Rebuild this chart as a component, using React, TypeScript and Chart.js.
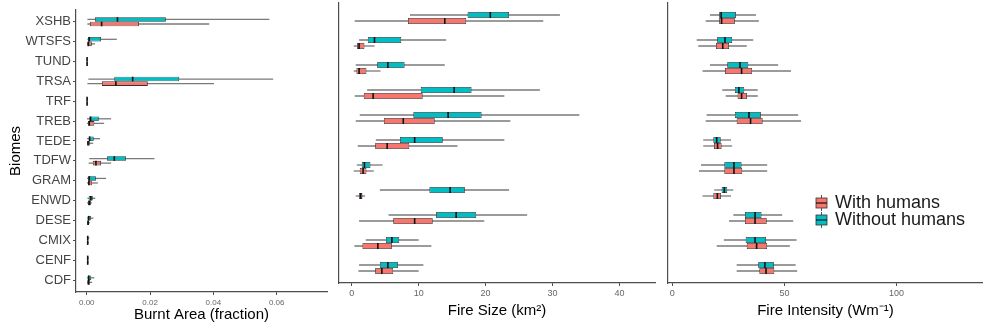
import React, { useEffect, useRef } from 'react';
import { Chart, registerables } from 'chart.js';

Chart.register(...registerables);
Chart.defaults.font.family = '"Liberation Sans", Arial, sans-serif';

const seriesNames = ['With humans', 'Without humans'];
const seriesColors = ['#F8766D', '#00BFC4'];

// each entry: [min, q1, median, q3, max]
const areaBiomes = ['XSHB', 'WTSFS', 'TUND', 'TRSA', 'TRF', 'TREB', 'TEDE', 'TDFW', 'GRAM', 'ENWD', 'DESE', 'CMIX', 'CENF', 'CDF'];
const areaWith = [
  [0.0002, 0.001, 0.0047, 0.0165, 0.0387],
  [0.0001, 0.0002, 0.0005, 0.0016, 0.0026],
  [0, 0.00005, 0.0001, 0.0002, 0.0003],
  [0.0002, 0.0048, 0.0092, 0.0193, 0.0402],
  [0, 0.00005, 0.0001, 0.0002, 0.0003],
  [0.0001, 0.0004, 0.0008, 0.0024, 0.0055],
  [0.0001, 0.0002, 0.0004, 0.001, 0.002],
  [0.0006, 0.0019, 0.0029, 0.0045, 0.0077],
  [0.0001, 0.0004, 0.0007, 0.0017, 0.0035],
  [0.0001, 0.0004, 0.0008, 0.0013, 0.0016],
  [0.0001, 0.0002, 0.0004, 0.0007, 0.001],
  [0.0001, 0.0002, 0.0003, 0.0004, 0.0007],
  [0.0001, 0.0002, 0.0003, 0.0004, 0.0006],
  [0.0001, 0.0003, 0.0005, 0.001, 0.0017],
];
const areaWithout = [
  [0.0002, 0.0026, 0.0097, 0.025, 0.0577],
  [0.0002, 0.0004, 0.0008, 0.0045, 0.0095],
  [0, 0.00005, 0.0001, 0.0002, 0.0003],
  [0.0005, 0.0087, 0.0145, 0.0292, 0.0589],
  [0, 0.00005, 0.0001, 0.0002, 0.0004],
  [0.0001, 0.0008, 0.0012, 0.0038, 0.0077],
  [0.0001, 0.0006, 0.0009, 0.0022, 0.0042],
  [0.0008, 0.0064, 0.0087, 0.0124, 0.0214],
  [0.0001, 0.0004, 0.0008, 0.0029, 0.0061],
  [0.0002, 0.0006, 0.0013, 0.0019, 0.0027],
  [0.0001, 0.0003, 0.0006, 0.0013, 0.0021],
  [0.0001, 0.0002, 0.0003, 0.0005, 0.0008],
  [0.0001, 0.0002, 0.0003, 0.0004, 0.0007],
  [0.0001, 0.0003, 0.0006, 0.0014, 0.0024],
];
const areaTicks = [0, 0.02, 0.04, 0.06];

const fireBiomes = ['XSHB', 'WTSFS', 'TRSA', 'TRF', 'TREB', 'TEDE', 'TDFW', 'GRAM', 'ENWD', 'DESE', 'CDF'];
const sizeWith = [
  [0.45, 8.4, 13.9, 17.1, 28.6],
  [0.3, 0.8, 1.1, 1.9, 3.4],
  [0.3, 0.7, 1.1, 2.2, 4.3],
  [0.45, 1.8, 3.2, 10.6, 22.8],
  [0.6, 4.8, 7.7, 12.4, 23.7],
  [0.9, 3.5, 5.3, 8.6, 15.8],
  [0.3, 1.2, 1.7, 2.2, 3.3],
  [0.6, 1.1, 1.35, 1.6, 2.0],
  [1.1, 6.2, 9.4, 12.1, 19.8],
  [0.4, 1.6, 3.9, 6.0, 11.9],
  [1.0, 3.5, 4.5, 6.2, 10.0],
];
const sizeWithout = [
  [8.7, 17.3, 20.7, 23.5, 31.1],
  [1.1, 2.4, 3.4, 7.4, 14.1],
  [0.6, 3.8, 5.4, 7.9, 13.9],
  [2.3, 10.3, 15.3, 17.9, 28.1],
  [1.2, 9.2, 14.4, 19.4, 34.0],
  [3.6, 7.2, 9.4, 13.6, 22.8],
  [0.75, 1.5, 1.9, 2.8, 4.6],
  [4.2, 11.6, 14.7, 16.9, 23.5],
  [5.5, 12.6, 15.6, 18.6, 26.2],
  [2.1, 5.1, 6.0, 7.1, 10.0],
  [1.1, 4.2, 5.4, 6.9, 10.7],
];
const sizeTicks = [0, 10, 20, 30, 40];

const intensityWith = [
  [14.9, 20.9, 22.0, 27.9, 38.6],
  [11.6, 19.5, 22.5, 25.3, 33.2],
  [13.5, 23.5, 30.9, 35.6, 52.9],
  [23.8, 29.1, 30.9, 33.3, 38.1],
  [14.9, 28.7, 34.9, 40.3, 57.4],
  [13.8, 18.6, 20.2, 22.0, 26.7],
  [11.9, 23.2, 27.5, 31.2, 42.3],
  [13.5, 18.3, 20.1, 21.7, 26.2],
  [25.3, 32.4, 36.9, 42.1, 53.9],
  [19.8, 33.2, 37.6, 42.3, 52.4],
  [28.7, 38.8, 41.8, 45.5, 55.7],
];
const intensityWithout = [
  [16.8, 20.9, 21.8, 28.4, 37.3],
  [10.9, 20.0, 23.5, 26.7, 36.1],
  [16.8, 24.5, 30.2, 33.9, 47.2],
  [22.3, 27.9, 29.7, 32.1, 38.1],
  [15.3, 27.9, 34.2, 39.5, 56.1],
  [13.8, 18.3, 19.8, 21.6, 26.2],
  [12.8, 23.2, 27.5, 30.9, 42.3],
  [18.7, 22.0, 23.2, 24.5, 27.2],
  [27.2, 32.4, 36.9, 39.8, 49.0],
  [23.0, 32.7, 36.9, 41.8, 55.4],
  [28.7, 38.3, 41.3, 45.3, 55.0],
];
const intensityTicks = [0, 50, 100];

const AXIS = '#4d4d4d';

const boxPlugin = {
  id: 'boxWhiskers',
  beforeDatasetsDraw(chart: any) {
    const ctx = chart.ctx;
    const xs = chart.scales.x;
    ctx.save();
    chart.data.datasets.forEach((ds: any, d: number) => {
      const meta = chart.getDatasetMeta(d);
      meta.data.forEach((el: any, i: number) => {
        const s = ds.stats[i];
        const { y } = el.getProps(['y'], true);
        ctx.strokeStyle = '#7a7a7a';
        ctx.lineWidth = 1.3;
        ctx.beginPath();
        ctx.moveTo(xs.getPixelForValue(s[0]), y);
        ctx.lineTo(xs.getPixelForValue(s[4]), y);
        ctx.stroke();
      });
    });
    ctx.restore();
  },
  afterDatasetsDraw(chart: any) {
    const ctx = chart.ctx;
    const xs = chart.scales.x;
    ctx.save();
    chart.data.datasets.forEach((ds: any, d: number) => {
      const meta = chart.getDatasetMeta(d);
      meta.data.forEach((el: any, i: number) => {
        const s = ds.stats[i];
        const { y, height } = el.getProps(['y', 'height'], true);
        const px = xs.getPixelForValue(s[2]);
        ctx.strokeStyle = '#111';
        ctx.lineWidth = 1.6;
        ctx.beginPath();
        ctx.moveTo(px, y - height / 2);
        ctx.lineTo(px, y + height / 2);
        ctx.stroke();
      });
    });
    ctx.restore();
  },
};

const legendPlugin = {
  id: 'boxLegend',
  afterDraw(chart: any) {
    const opts = chart.options.plugins.boxLegend;
    if (!opts || !opts.show) return;
    const ctx = chart.ctx;
    ctx.save();
    const rows = [0, 1];
    rows.forEach((k) => {
      const cy = opts.y + k * 17;
      const x0 = opts.x;
      ctx.strokeStyle = '#555';
      ctx.lineWidth = 1;
      ctx.beginPath();
      ctx.moveTo(x0 + 5.5, cy - 8);
      ctx.lineTo(x0 + 5.5, cy + 8);
      ctx.stroke();
      ctx.fillStyle = seriesColors[k];
      ctx.fillRect(x0, cy - 5, 11, 10);
      ctx.strokeStyle = '#333';
      ctx.lineWidth = 0.8;
      ctx.strokeRect(x0, cy - 5, 11, 10);
      ctx.strokeStyle = '#111';
      ctx.lineWidth = 1.2;
      ctx.beginPath();
      ctx.moveTo(x0, cy);
      ctx.lineTo(x0 + 11, cy);
      ctx.stroke();
      ctx.fillStyle = '#1a1a1a';
      ctx.font = '18px "Liberation Sans", Arial, sans-serif';
      ctx.textBaseline = 'middle';
      ctx.textAlign = 'left';
      ctx.fillText(seriesNames[k], x0 + 19, cy);
    });
    ctx.restore();
  },
};

type PanelSpec = {
  biomes: string[];
  withH: number[][];
  without: number[][];
  ticks: number[];
  digits: number;
  xmin: number;
  xmax: number;
  title: string;
  yTitle: string;
  showY: boolean;
  catPct: number;
  yWidth: number;
  xHeight: number;
  padRight: number;
  titlePadBottom: number;
  tickSize: number;
  tickPad: number;
  legend: boolean;
};

function buildConfig(p: PanelSpec): any {
  const n = p.biomes.length;
  const mk = (stats: number[][], k: number) => ({
    label: seriesNames[k],
    data: stats.map((s, i) => ({ x: [s[1], s[3]], y: i })),
    stats,
    backgroundColor: seriesColors[k],
    borderColor: '#333',
    borderWidth: 0.8,
    borderSkipped: false,
    categoryPercentage: p.catPct,
    barPercentage: 1,
  });
  return {
    type: 'bar',
    data: { datasets: [mk(p.without, 1), mk(p.withH, 0)] },
    options: {
      indexAxis: 'y',
      animation: false,
      responsive: false,
      devicePixelRatio: 1,
      layout: { padding: { top: 3, right: p.padRight, left: 0, bottom: 0 } },
      plugins: {
        legend: { display: false },
        tooltip: { enabled: false },
        boxLegend: { show: p.legend, x: 158, y: 203 },
      },
      scales: {
        y: {
          type: 'linear',
          reverse: true,
          offset: false,
          min: -0.6,
          max: n - 0.4,
          afterBuildTicks: (s: any) => {
            s.ticks = p.biomes.map((_, i) => ({ value: i }));
          },
          afterFit: (s: any) => {
            s.width = p.yWidth;
          },
          ticks: {
            display: p.showY,
            autoSkip: false,
            padding: 2,
            color: '#444',
            font: { size: 13 },
            callback: (v: number) => p.biomes[v],
          },
          grid: { offset: false, drawOnChartArea: false, drawTicks: p.showY, tickLength: 3, color: AXIS },
          border: { display: true, color: AXIS, width: 1.2 },
          title: {
            display: !!p.yTitle,
            text: p.yTitle,
            color: '#000',
            font: { size: 15 },
            padding: { top: 7, bottom: 0 },
          },
        },
        x: {
          type: 'linear',
          min: p.xmin,
          max: p.xmax,
          afterBuildTicks: (s: any) => {
            s.ticks = p.ticks.map((v) => ({ value: v }));
          },
          afterFit: (s: any) => {
            s.height = p.xHeight;
          },
          ticks: {
            autoSkip: false,
            maxRotation: 0,
            padding: p.tickPad,
            color: '#666',
            font: { size: p.tickSize },
            callback: (v: number) => v.toFixed(p.digits),
          },
          grid: { drawOnChartArea: false, tickLength: 3, color: AXIS },
          border: { display: true, color: AXIS, width: 1.2 },
          title: {
            display: true,
            text: p.title,
            color: '#000',
            font: { size: 15 },
            padding: { top: 0, bottom: p.titlePadBottom },
          },
        },
      },
    },
    plugins: [boxPlugin, legendPlugin],
  };
}

const panels: { left: number; width: number; spec: PanelSpec }[] = [
  {
    left: 0,
    width: 330,
    spec: {
      biomes: areaBiomes, withH: areaWith, without: areaWithout, ticks: areaTicks, digits: 2,
      xmin: -0.0034, xmax: 0.0759, title: 'Burnt Area (fraction)', yTitle: 'Biomes', showY: true,
      catPct: 0.46, yWidth: 76, xHeight: 36, padRight: 3, titlePadBottom: 4, tickSize: 8, tickPad: 3, legend: false,
    },
  },
  {
    left: 330,
    width: 328,
    spec: {
      biomes: fireBiomes, withH: sizeWith, without: sizeWithout, ticks: sizeTicks, digits: 0,
      xmin: -1.9, xmax: 45.3, title: 'Fire Size (km²)', yTitle: '', showY: false,
      catPct: 0.48, yWidth: 9, xHeight: 45, padRight: 3, titlePadBottom: 8, tickSize: 9, tickPad: 2, legend: false,
    },
  },
  {
    left: 658,
    width: 325,
    spec: {
      biomes: fireBiomes, withH: intensityWith, without: intensityWithout, ticks: intensityTicks, digits: 0,
      xmin: -1.9, xmax: 138.5, title: 'Fire Intensity (Wm⁻¹)', yTitle: '', showY: false,
      catPct: 0.48, yWidth: 10, xHeight: 45, padRight: 0, titlePadBottom: 8, tickSize: 9, tickPad: 2, legend: true,
    },
  },
];

function Panel({ left, width, spec }: { left: number; width: number; spec: PanelSpec }) {
  const ref = useRef<HTMLCanvasElement | null>(null);
  useEffect(() => {
    if (!ref.current) return;
    const chart = new Chart(ref.current, buildConfig(spec));
    return () => chart.destroy();
  }, []);
  return (
    <canvas
      ref={ref}
      width={width}
      height={328}
      style={{ position: 'absolute', left, top: 0, width, height: 328 }}
    />
  );
}

export default function App() {
  return (
    <div style={{ position: 'absolute', left: 0, top: 0, width: 983, height: 328, background: '#fff' }}>
      {panels.map((p, i) => (
        <Panel key={i} left={p.left} width={p.width} spec={p.spec} />
      ))}
    </div>
  );
}
